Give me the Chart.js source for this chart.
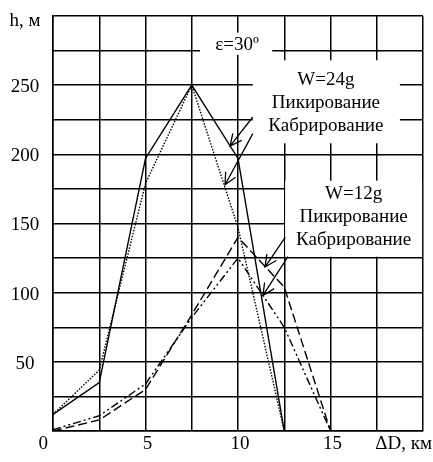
<!DOCTYPE html>
<html>
<head>
<meta charset="utf-8">
<script src="https://cdn.jsdelivr.net/npm/chart.js@4/dist/chart.umd.min.js"></script>
<style>
  body { margin: 0; background: #fff; }
  canvas { display: block; }
</style>
</head>
<body>
<canvas id="chart" width="433" height="462"></canvas>
<script>
// distance, km
var distKm = [0, 2.5, 5, 7.5, 10, 12.5, 15];

// height, m  (W=24g)
var dive24 = [12, 35, 197, 250, 197, 0];
var climb24 = [12, 44, 179, 250, 147, 0];

// height, m  (W=12g)
var dive12 = [0, 8, 30, 84, 140, 104, 0];
var climb12 = [1, 11, 34, 82, 125, 75, 0];

var yTickValues = [50, 100, 150, 200, 250, 300];
var yTickLabels = ['50', '100', '150', '200', '250', 'h, м'];
var xTickValues = [0, 5, 10, 15, 20];
var xTickLabels = ['0', '5', '10', '15', 'ΔD, км'];

var FONT = '19px "Liberation Serif", "Times New Roman", serif';

function toPoints(values) {
    var out = [];
    for (var i = 0; i < values.length; i++) {
        out.push({ x: distKm[i], y: values[i] });
    }
    return out;
}

function lineSet(values, dash) {
    return {
        data: toPoints(values),
        borderColor: '#000',
        borderWidth: 1.4,
        borderDash: dash,
        pointRadius: 0,
        tension: 0,
        fill: false
    };
}

// notes placed in axis units (km, m)
var blanks = [
    { x0: 7.95, x1: 11.85, y0: 272, y1: 288 },
    { x0: 10.8, x1: 18.75, y0: 208, y1: 268 },
    { x0: 12.55, x1: 19.95, y0: 126, y1: 181 }
];
var notes = [
    { x: 9.95, y: 279, lines: ['ε=30º'] },
    { x: 14.75, y: 254, lines: ['W=24g', 'Пикирование', 'Кабрирование'] },
    { x: 16.25, y: 171, lines: ['W=12g', 'Пикирование', 'Кабрирование'] }
];
var arrows = [
    { from: [10.8, 227], to: [9.57, 206] },
    { from: [10.8, 215], to: [9.3, 178] },
    { from: [12.55, 140], to: [11.46, 118.5] },
    { from: [12.7, 126], to: [11.35, 98] }
];

var notesPlugin = {
    id: 'notes',
    beforeDatasetsDraw: function (chart) {
        var ctx = chart.ctx, sx = chart.scales.x, sy = chart.scales.y;
        ctx.save();
        ctx.fillStyle = '#fff';
        blanks.forEach(function (b) {
            var l = sx.getPixelForValue(b.x0), r = sx.getPixelForValue(b.x1);
            var t = sy.getPixelForValue(b.y1), btm = sy.getPixelForValue(b.y0);
            ctx.fillRect(l, t, r - l, btm - t);
        });
        ctx.restore();
    },
    afterDatasetsDraw: function (chart) {
        var ctx = chart.ctx, sx = chart.scales.x, sy = chart.scales.y;
        var area = chart.chartArea;
        ctx.save();
        ctx.fillStyle = '#000';
        ctx.strokeStyle = '#000';
        ctx.font = FONT;

        // annotation text
        ctx.textAlign = 'center';
        ctx.textBaseline = 'middle';
        notes.forEach(function (n) {
            var px = sx.getPixelForValue(n.x), py = sy.getPixelForValue(n.y);
            for (var i = 0; i < n.lines.length; i++) {
                ctx.fillText(n.lines[i], px, py + i * 23);
            }
        });

        // arrows
        ctx.lineWidth = 1.3;
        arrows.forEach(function (a) {
            var x1 = sx.getPixelForValue(a.from[0]), y1 = sy.getPixelForValue(a.from[1]);
            var x2 = sx.getPixelForValue(a.to[0]), y2 = sy.getPixelForValue(a.to[1]);
            var ang = Math.atan2(y2 - y1, x2 - x1);
            ctx.beginPath();
            ctx.moveTo(x1, y1);
            ctx.lineTo(x2, y2);
            ctx.moveTo(x2 - 13 * Math.cos(ang - 0.45), y2 - 13 * Math.sin(ang - 0.45));
            ctx.lineTo(x2, y2);
            ctx.lineTo(x2 - 13 * Math.cos(ang + 0.45), y2 - 13 * Math.sin(ang + 0.45));
            ctx.stroke();
        });

        // y tick labels
        ctx.textAlign = 'center';
        for (var i = 0; i < yTickValues.length; i++) {
            var yy = sy.getPixelForValue(yTickValues[i]);
            ctx.fillText(yTickLabels[i], 25, yy + (i === yTickValues.length - 1 ? 5 : 2));
        }

        // x tick labels
        var ly = area.bottom + 13;
        for (var j = 0; j < xTickValues.length; j++) {
            var xx = sx.getPixelForValue(xTickValues[j]);
            if (j === 0) {
                ctx.textAlign = 'right';
                ctx.fillText(xTickLabels[j], xx - 5, ly);
            } else if (j === xTickValues.length - 1) {
                ctx.textAlign = 'right';
                ctx.fillText(xTickLabels[j], chart.width - 1, ly);
            } else {
                ctx.textAlign = 'center';
                ctx.fillText(xTickLabels[j], xx + 2, ly);
            }
        }
        ctx.restore();
    }
};

new Chart(document.getElementById('chart').getContext('2d'), {
    type: 'line',
    data: {
        datasets: [
            lineSet(dive24, []),
            lineSet(climb24, [1.5, 1.5]),
            lineSet(dive12, [9, 4]),
            lineSet(climb12, [8, 3, 2, 3, 2, 3])
        ]
    },
    options: {
        responsive: false,
        animation: false,
        devicePixelRatio: 1,
        layout: { padding: { top: 16, right: 10, left: 0, bottom: 0 } },
        plugins: { legend: { display: false }, tooltip: { enabled: false } },
        scales: {
            x: {
                type: 'linear',
                min: 0,
                max: 20,
                ticks: { stepSize: 2.5, display: false },
                grid: { color: '#000', lineWidth: 1.5, drawTicks: false },
                border: { color: '#000', width: 1.5 },
                afterFit: function (scale) { scale.height = 31; }
            },
            y: {
                min: 0,
                max: 300,
                ticks: { stepSize: 25, display: false },
                grid: { color: '#000', lineWidth: 1.5, drawTicks: false },
                border: { color: '#000', width: 1.5 },
                afterFit: function (scale) { scale.width = 53; }
            }
        }
    },
    plugins: [notesPlugin]
});
</script>
</body>
</html>
